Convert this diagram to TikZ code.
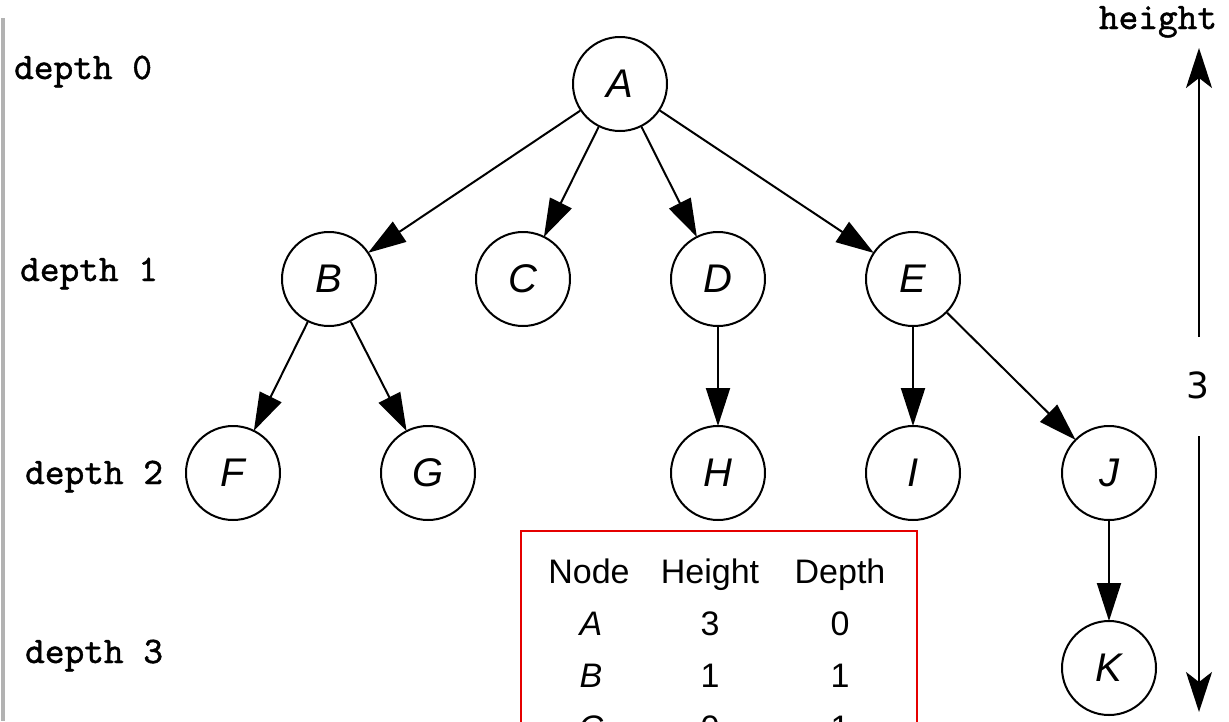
\documentclass[tikz,border=0pt]{standalone}
\usepackage{fontspec}
\setmainfont{Liberation Sans}
\newfontfamily\monof[FakeBold=1.2]{lmmono10-regular.otf}
\newfontfamily\dejav{DejaVu Sans}
\usetikzlibrary{arrows.meta}
\begin{document}
\begin{tikzpicture}[x=1pt,y=-1pt,
  tn/.style={circle,draw,line width=2pt,minimum size=94pt,inner sep=0pt,font=\fontsize{40}{48}\selectfont\itshape},
  edge/.style={line width=2pt,-{Triangle[length=38pt,width=24pt]},shorten >=-1pt},
  harrow/.style={line width=2pt,-{Stealth[length=40pt,width=26pt,inset=10pt]}},
  dlab/.style={font=\monof\fontsize{37.5}{40}\selectfont,anchor=base west,inner sep=0pt},
  tcell/.style={font=\fontsize{34}{40}\selectfont,inner sep=0pt,anchor=base},
  tcelli/.style={font=\fontsize{34}{40}\selectfont\itshape,inner sep=0pt,anchor=base}]
\useasboundingbox (0,0) rectangle (1229,721);
\clip (0,0) rectangle (1229,721);
% left grey rule
\draw[line width=4pt,color=black!30] (3,18) -- (3,721);
% depth labels
\node[dlab] (d0) at (14,79) {depth 0};
\node[dlab] (d1) at (20,281) {depth 1};
\node[dlab] (d2) at (25,484) {depth 2};
\node[dlab] (d3) at (25,663) {depth 3};
% tree nodes
\node[tn] (A) at (620,84) {A};
\node[tn] (B) at (329,279) {B};
\node[tn] (C) at (523,279) {C};
\node[tn] (D) at (718,279) {D};
\node[tn] (E) at (913,279) {E};
\node[tn] (F) at (233,473) {F};
\node[tn] (G) at (428,473) {G};
\node[tn] (H) at (718,473) {H};
\node[tn] (I) at (913,473) {I};
\node[tn] (J) at (1109,473) {J};
\node[tn] (K) at (1109,668) {K};
% edges
\draw[edge] (A) -- (B);
\draw[edge] (A) -- (C);
\draw[edge] (A) -- (D);
\draw[edge] (A) -- (E);
\draw[edge] (B) -- (F);
\draw[edge] (B) -- (G);
\draw[edge] (D) -- (H);
\draw[edge] (E) -- (I);
\draw[edge] (E) -- (J);
\draw[edge] (J) -- (K);
% height indicator
\node[font=\monof\fontsize{37.5}{40}\selectfont,inner sep=0pt,anchor=base] (hl) at (1158,29) {height};
\node[font=\dejav\fontsize{36}{40}\selectfont,inner sep=0pt] (three) at (1198,385) {3};
\coordinate (hu0) at (1199,337);
\coordinate (hu1) at (1199,48);
\coordinate (hd0) at (1199,436);
\coordinate (hd1) at (1199,712);
\draw[harrow] (hu0) -- (hu1);
\draw[harrow] (hd0) -- (hd1);
% table
\draw[line width=2pt,color=red!90!black] (521,531) rectangle (917,820);
\node[tcell] (h1) at (589,583) {Node};
\node[tcell] (h2) at (710,583) {Height};
\node[tcell] (h3) at (840,583) {Depth};
\node[tcelli] (rA) at (591,635) {A};
\node[tcell] (rA2) at (710,635) {3};
\node[tcell] (rA3) at (840,635) {0};
\node[tcelli] (rB) at (591,687) {B};
\node[tcell] (rB2) at (710,687) {1};
\node[tcell] (rB3) at (840,687) {1};
\node[tcelli] (rC) at (591,739) {C};
\node[tcell] (rC2) at (710,739) {0};
\node[tcell] (rC3) at (840,739) {1};
\end{tikzpicture}
\end{document}
